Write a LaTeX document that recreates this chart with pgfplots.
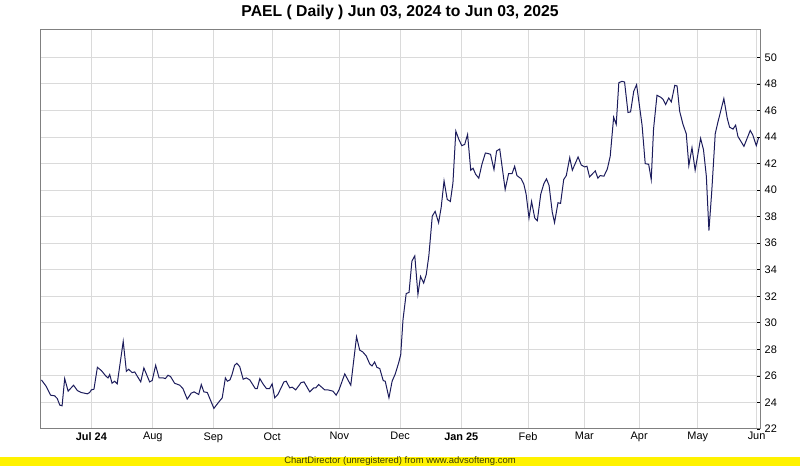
\documentclass[border=0pt]{standalone}
\usepackage{fontspec}
\setmainfont{Liberation Sans}
\usepackage{pgfplots}
\pgfplotsset{compat=1.18}
\definecolor{priceline}{RGB}{28,28,92}
\definecolor{gridgray}{RGB}{218,218,218}
\definecolor{framegray}{RGB}{128,128,128}
\definecolor{bannerfg}{RGB}{60,60,0}
\begin{document}
\begin{tikzpicture}
\useasboundingbox (0pt,0pt) rectangle (600pt,349.5pt);
% yellow banner at the bottom
\fill[yellow] (0pt,0pt) rectangle (600pt,7.1pt);
\node[font=\fontsize{7.1}{8}\selectfont, text=bannerfg, inner sep=0pt] at (300pt,3.6pt)
  {ChartDirector (unregistered) from www.advsofteng.com};
\node[font=\fontsize{11.8}{13}\selectfont\bfseries, inner sep=0pt] at (300pt,339.8pt)
  {PAEL ( Daily ) Jun 03, 2024 to Jun 03, 2025};
\begin{axis}[
  at={(30pt,27.75pt)}, anchor=south west,
  scale only axis, width=540pt, height=299.25pt,
  xmin=0, xmax=250.9, ymin=22, ymax=52.07,
  axis line style={framegray, line width=0.75pt},
  grid=major, major grid style={gridgray, line width=0.75pt},
  xtick={17.9,39.3,60.4,80.9,104.3,125.5,146.8,170.1,189.7,208.8,229.2,249.7},
  xticklabels={\textbf{Jul 24},Aug,Sep,Oct,Nov,Dec,\textbf{Jan 25},Feb,Mar,Apr,May,Jun},
  x tick style={draw=none},
  ytick={22,24,...,50},
  ytick pos=right,
  yticklabel pos=right,
  y tick style={black, line width=0.6pt},
  tick align=inside, major tick length=2.5pt,
  ticklabel style={font=\fontsize{8.2}{9}\selectfont},
  x tick label style={yshift=1pt},
  /pgf/number format/assume math mode=true,
]
\addplot[priceline, line width=0.75pt, mark=none] table {
0.5 25.7
2.2 25.2
3.7 24.55
5.1 24.5
6.0 24.3
6.9 23.8
7.7 23.75
8.6 25.8
9.8 24.85
11.7 25.3
13.0 24.9
14.4 24.75
16.5 24.65
17.3 24.75
17.9 24.95
18.8 25.0
20.0 26.65
21.4 26.4
22.9 26.0
23.7 25.85
24.3 26.1
25.1 25.45
26.0 25.6
26.9 25.4
29.0 28.6
30.1 26.35
30.9 26.5
32.1 26.25
33.0 26.3
35.1 25.55
36.2 26.6
38.2 25.55
39.1 25.65
40.3 26.8
41.5 25.85
42.9 25.85
43.7 25.8
44.6 26.05
45.5 25.95
46.9 25.45
48.7 25.3
49.8 25.05
51.3 24.25
52.7 24.7
53.7 24.8
55.3 24.6
56.2 25.35
57.1 24.8
58.3 24.75
60.6 23.55
62.0 23.95
63.5 24.35
64.6 25.85
65.3 25.6
66.2 25.7
66.9 26.1
67.8 26.8
68.6 26.95
69.6 26.7
70.8 25.75
71.9 25.85
73.1 25.7
75.0 25.05
75.7 25.05
76.6 25.8
77.7 25.4
78.9 25.05
80.0 25.05
80.9 25.4
81.8 24.35
82.9 24.6
85.0 25.55
85.8 25.6
87.0 25.1
87.9 25.15
89.1 24.95
91.0 25.5
92.0 25.55
94.0 24.8
95.4 25.1
96.1 25.1
97.1 25.35
99.2 24.95
100.3 24.95
102.1 24.85
103.2 24.55
104.2 24.95
106.2 26.15
108.3 25.3
110.3 28.95
111.4 27.95
112.5 27.8
113.7 27.5
114.9 26.9
115.7 26.75
116.6 27.05
117.4 26.65
118.4 26.55
119.6 25.65
120.3 25.6
121.6 24.35
122.7 25.6
123.8 26.15
125.0 27.0
125.7 27.6
126.5 30.25
127.6 32.2
128.6 32.3
129.6 34.65
130.6 35.05
131.7 32.15
132.6 33.5
133.7 33.0
134.6 33.65
135.5 35.05
136.7 38.05
137.7 38.4
138.9 37.55
139.8 38.7
140.8 40.7
141.9 39.3
143.0 39.15
143.9 40.55
144.9 44.45
146.0 43.8
147.0 43.35
148.0 43.45
149.0 44.2
150.1 41.5
150.9 41.65
151.8 41.2
152.9 40.9
154.0 41.95
155.2 42.8
156.3 42.75
157.0 42.7
158.2 41.55
159.1 42.95
160.2 43.1
162.1 40.05
163.3 41.25
164.5 41.25
165.4 41.8
166.2 41.1
167.7 40.85
168.6 40.45
169.4 39.7
170.4 37.9
171.3 39.15
172.4 37.9
173.3 37.7
174.5 39.7
175.6 40.5
176.5 40.85
177.4 40.35
178.5 38.35
179.3 37.55
180.5 39.05
181.4 39.0
182.5 40.8
183.4 41.1
184.6 42.45
185.5 41.5
187.5 42.5
188.6 41.9
189.8 41.75
190.6 41.8
191.5 41.0
193.5 41.45
194.4 40.9
195.2 41.1
196.5 41.05
197.7 41.6
198.7 42.55
199.9 45.5
200.8 44.95
201.7 48.1
202.8 48.2
203.7 48.15
204.9 45.85
205.8 45.9
206.9 47.45
207.9 47.95
209.8 44.9
210.9 42.0
212.1 41.95
213.0 40.8
213.8 44.6
215.0 47.15
216.3 47.0
217.1 46.85
218.0 46.45
219.1 46.95
220.0 46.65
221.2 47.9
222.0 47.85
222.9 45.95
224.0 45.0
225.2 44.25
226.1 41.85
227.2 43.2
228.3 41.5
230.2 43.9
231.2 43.05
232.2 41.05
233.1 36.95
234.1 39.95
235.3 44.25
236.2 45.1
238.3 46.9
239.5 45.4
240.3 44.75
241.5 44.6
242.4 44.9
243.2 44.05
245.3 43.3
247.5 44.5
248.4 44.15
249.6 43.35
250.4 43.95
};
\end{axis}
\end{tikzpicture}
\end{document}
